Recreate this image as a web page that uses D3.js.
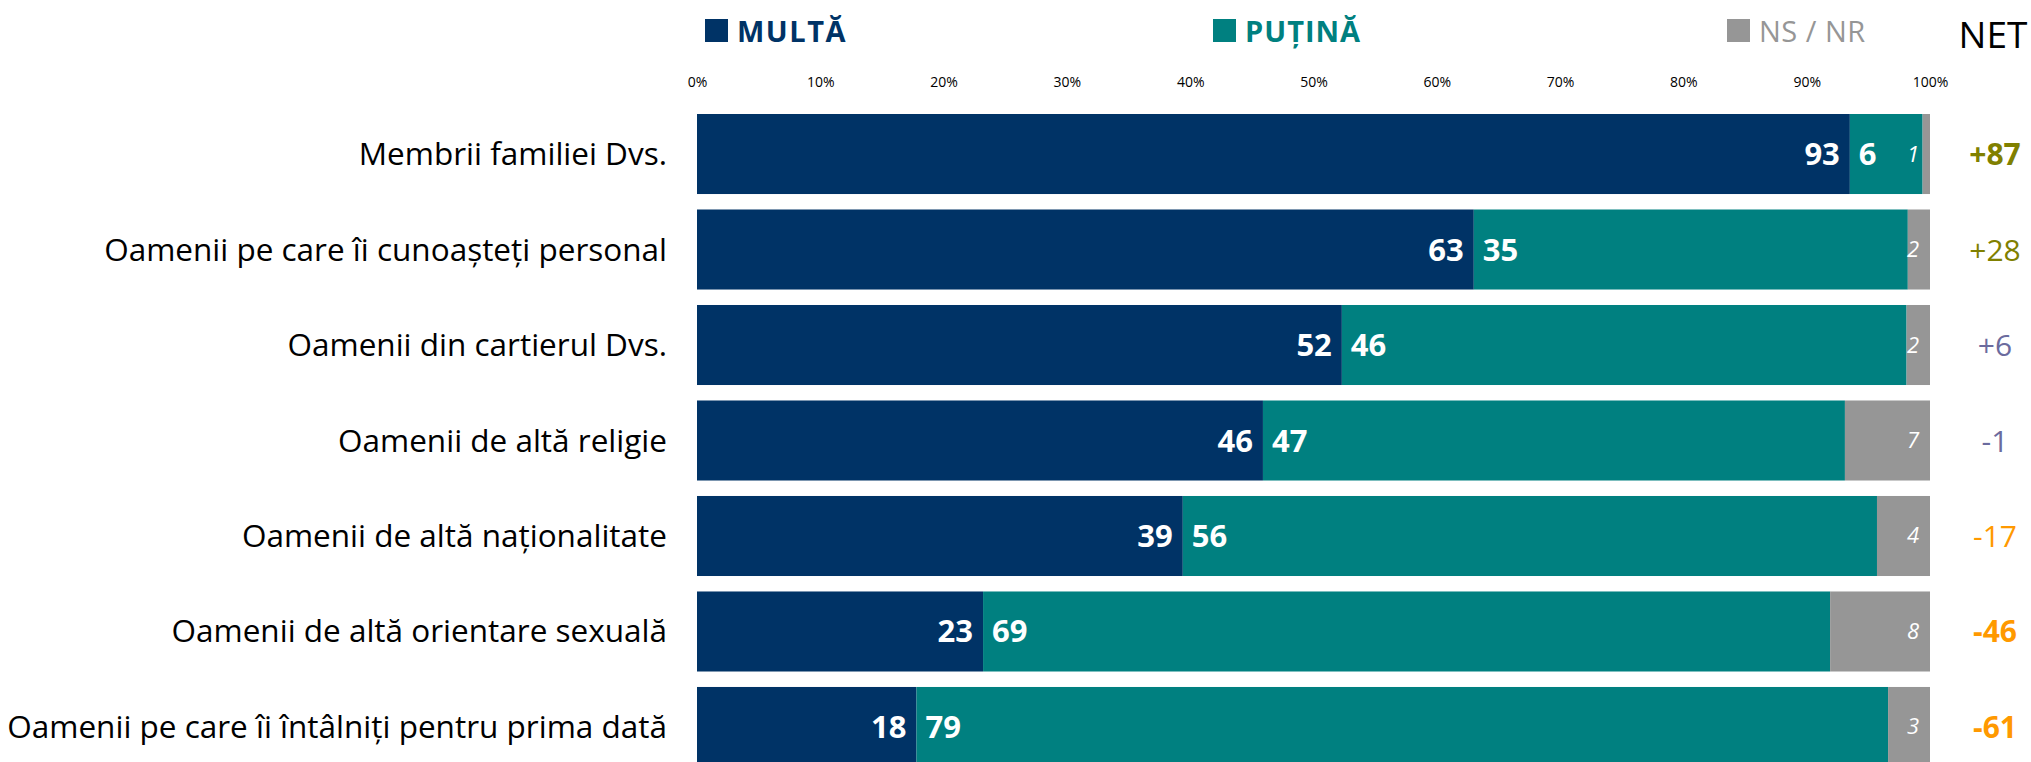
<!DOCTYPE html>
<html>
<head>
<meta charset="utf-8">
<script src="https://cdn.jsdelivr.net/npm/d3@7"></script>
<style>
  body { margin: 0; background: #fff; }
  svg { display: block; font-family: "Open Sans", sans-serif; }
</style>
</head>
<body>
<div id="chart"></div>
<script>
// categorii + valori (lungimea barelor) + etichetele afisate
const categorii = [
    "Membrii familiei Dvs.",
    "Oamenii pe care îi cunoașteți personal",
    "Oamenii din cartierul Dvs.",
    "Oamenii de altă religie",
    "Oamenii de altă naționalitate",
    "Oamenii de altă orientare sexuală",
    "Oamenii pe care îi întâlniți pentru prima dată"
];
const multa  = [93.5, 63.0, 52.3, 45.9, 39.4, 23.2, 17.8];
const putina = [5.9, 35.2, 45.8, 47.2, 56.3, 68.7, 78.8];
const nsnr   = [0.6, 1.8, 1.9, 6.9, 4.3, 8.1, 3.4];
const etichMulta  = [93, 63, 52, 46, 39, 23, 18];
const etichPutina = [6, 35, 46, 47, 56, 69, 79];
const etichNsnr   = [1, 2, 2, 7, 4, 8, 3];
const net = [87, 28, 6, -1, -17, -46, -61];
const tickuri = [0, 10, 20, 30, 40, 50, 60, 70, 80, 90, 100];

const serii = [
    { nume: "MULTĂ", val: multa, etich: etichMulta, culoare: "#003366" },
    { nume: "PUȚINĂ", val: putina, etich: etichPutina, culoare: "#008080" },
    { nume: "NS / NR", val: nsnr, etich: etichNsnr, culoare: "#969696" }
];

const W = 2031, H = 762;
const svg = d3.select("#chart").append("svg").attr("width", W).attr("height", H);

const x = d3.scaleLinear().domain([0, 100]).range([697, 1930]);
const y = d3.scaleBand().domain(categorii).range([114, 767]).paddingInner(0.162).paddingOuter(0);

// axa de sus (doar etichete)
const axa = svg.append("g")
    .attr("transform", "translate(0,87)")
    .call(d3.axisTop(x).tickValues(tickuri).tickSize(0).tickPadding(0).tickFormat(d => d + "%"));
axa.select(".domain").remove();
axa.selectAll("text").attr("font-family", "Open Sans").attr("font-size", 14).attr("fill", "#000");

// etichete categorii
svg.append("g").selectAll("text")
    .data(categorii)
    .join("text")
    .attr("x", 667)
    .attr("y", d => y(d) + y.bandwidth() / 2 + 11)
    .attr("text-anchor", "end")
    .attr("font-size", 31.5)
    .attr("fill", "#000")
    .text(d => d);

// bare stivuite
const stive = categorii.map((c, i) => {
    let acc = 0;
    return serii.map(s => {
        const seg = { cat: c, x0: acc, x1: acc + s.val[i], etich: s.etich[i], s: s };
        acc += s.val[i];
        return seg;
    });
});

stive.forEach((rand, i) => {
    const g = svg.append("g");
    g.selectAll("rect")
        .data(rand)
        .join("rect")
        .attr("x", d => x(d.x0))
        .attr("width", d => x(d.x1) - x(d.x0))
        .attr("y", d => y(d.cat))
        .attr("height", y.bandwidth())
        .attr("fill", d => d.s.culoare);

    const cy = y(rand[0].cat) + y.bandwidth() / 2;
    // MULTA: la capatul barei
    g.append("text")
        .attr("x", x(rand[0].x1) - 10)
        .attr("y", cy + 11)
        .attr("text-anchor", "end")
        .attr("font-size", 31).attr("font-weight", "bold").attr("fill", "#fff")
        .text(rand[0].etich);
    // PUTINA: la inceputul segmentului
    g.append("text")
        .attr("x", x(rand[1].x0) + 9)
        .attr("y", cy + 11)
        .attr("font-size", 31).attr("font-weight", "bold").attr("fill", "#fff")
        .text(rand[1].etich);
    // NS/NR: italic, aliniat la dreapta
    g.append("text")
        .attr("x", x(100) - 11)
        .attr("y", cy + 7.5)
        .attr("text-anchor", "end")
        .attr("font-size", 22).attr("font-style", "italic").attr("fill", "#fff")
        .text(rand[2].etich);
});

// NET
const loc = d3.formatLocale({ decimal: ".", thousands: ",", grouping: [3], currency: ["", ""], minus: "-" });
const fmtNet = loc.format("+d");
function culoareNet(v) {
    if (v >= 10) return "#808000";
    if (v > -10) return "#6B6B9E";
    return "#FF9900";
}
svg.append("g").selectAll("text")
    .data(net)
    .join("text")
    .attr("x", 1995)
    .attr("y", (d, i) => y(categorii[i]) + y.bandwidth() / 2 + 11)
    .attr("text-anchor", "middle")
    .attr("font-size", 30)
    .attr("font-weight", d => Math.abs(d) >= 40 ? "bold" : "normal")
    .attr("fill", culoareNet)
    .text(d => fmtNet(d));

svg.append("text")
    .attr("x", 1993).attr("y", 48)
    .attr("text-anchor", "middle")
    .attr("font-size", 37).attr("fill", "#000")
    .text("NET");

// legenda
const legPos = [705, 1213, 1727];
const leg = svg.append("g").selectAll("g")
    .data(serii)
    .join("g")
    .attr("transform", (d, i) => `translate(${legPos[i]},0)`);
leg.append("rect")
    .attr("x", 0).attr("y", 19).attr("width", 23).attr("height", 23)
    .attr("fill", d => d.culoare);
leg.append("text")
    .attr("x", 32)
    .attr("y", 42)
    .attr("font-size", 29)
    .attr("font-weight", (d, i) => i == 2 ? "normal" : "bold")
    .attr("letter-spacing", (d, i) => i == 0 ? 1.5 : (i == 1 ? 1 : 0.5))
    .attr("fill", d => d.culoare)
    .text(d => d.nume);
</script>
</body>
</html>
